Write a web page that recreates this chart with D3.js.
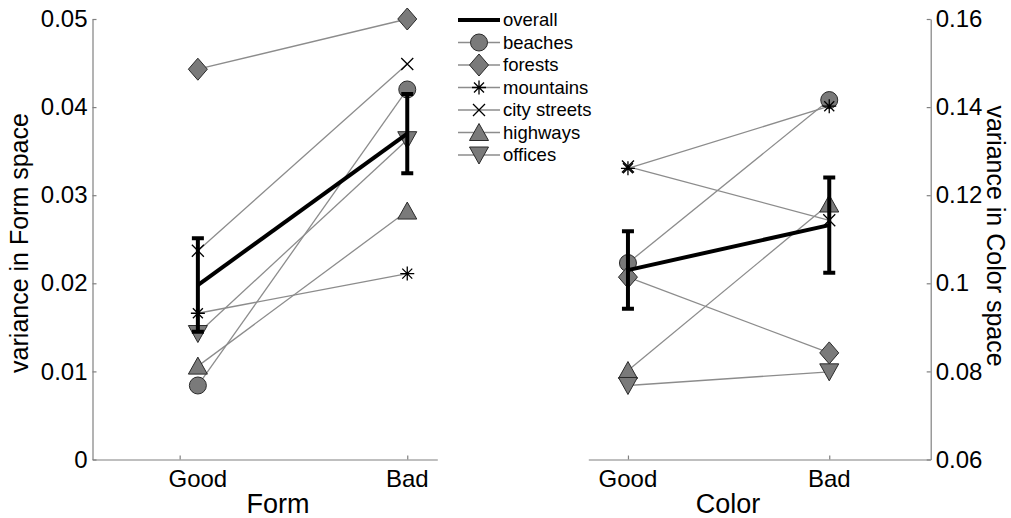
<!DOCTYPE html>
<html>
<head>
<meta charset="utf-8">
<script src="https://cdn.jsdelivr.net/npm/d3@7"></script>
<style>
  body { margin: 0; background: #fff; }
  text { font-family: 'Liberation Sans', Arial, sans-serif; fill: #000; }
</style>
</head>
<body>
<div id="chart"></div>
<script>
// categories and their marker shapes
const categories = ['beaches', 'forests', 'mountains', 'city streets', 'highways', 'offices'];
const shapes = ['circle', 'diamond', 'star', 'cross', 'triUp', 'triDown'];
const conditions = ['Good', 'Bad'];

// variance in Form space
const formGood = [0.0084, 0.0443, 0.0166, 0.0237, 0.0106, 0.0143];
const formBad = [0.0420, 0.0500, 0.0211, 0.0449, 0.0282, 0.0363];
const formOverall = [0.0198, 0.0370];
const formErr = [0.0053, 0.0045];

// variance in Color space
const colorGood = [0.1046, 0.1014, 0.1261, 0.1265, 0.0802, 0.0768];
const colorBad = [0.1416, 0.0842, 0.1402, 0.1143, 0.1180, 0.0799];
const colorOverall = [0.1030, 0.1132];
const colorErr = [0.0088, 0.0108];

// x positions of the two conditions (form panel Good points sit right of the tick)
const formX = [1.08, 2];
const colorX = [1, 2];
const xTicks = [1, 2];

const formTicks = [0, 0.01, 0.02, 0.03, 0.04, 0.05];
const formTickLabels = ['0', '0.01', '0.02', '0.03', '0.04', '0.05'];
const colorTicks = [0.06, 0.08, 0.1, 0.12, 0.14, 0.16];
const colorTickLabels = ['0.06', '0.08', '0.1', '0.12', '0.14', '0.16'];

const WIDTH = 1011;
const HEIGHT = 518;
const TOP = 19;
const BOTTOM = 459.5;
const AXIS_COLOR = '#808080';
const LINE_COLOR = '#8c8c8c';
const FILL = '#7a7a7a';

const svg = d3.select('#chart').append('svg')
  .attr('width', WIDTH)
  .attr('height', HEIGHT);

svg.append('rect').attr('width', WIDTH).attr('height', HEIGHT).attr('fill', '#fff');

const markerPath = (shape) => {
  switch (shape) {
    case 'circle': return 'M8.5,0A8.5,8.5 0 1,1 -8.5,0A8.5,8.5 0 1,1 8.5,0Z';
    case 'diamond': return 'M0,-11L9.5,0L0,11L-9.5,0Z';
    case 'triUp': return 'M0,-9L9.5,8L-9.5,8Z';
    case 'triDown': return 'M0,9L9.5,-8L-9.5,-8Z';
    case 'star': return 'M-7,0L7,0M0,-7L0,7M-5,-5L5,5M-5,5L5,-5';
    case 'cross': return 'M-6,-6L6,6M-6,6L6,-6';
  }
};

const drawMarker = (g, shape, cx, cy) => {
  const open = shape === 'star' || shape === 'cross';
  g.append('path')
    .attr('d', markerPath(shape))
    .attr('transform', `translate(${cx},${cy})`)
    .attr('fill', open ? 'none' : FILL)
    .attr('stroke', open ? '#000' : '#2a2a2a')
    .attr('stroke-width', open ? 1.3 : 1);
};

const drawPanel = (opts) => {
  const { x, y, good, bad, overall, err, xs, ticks, tickLabels, side } = opts;
  const g = svg.append('g');

  // y axis
  const yAxis = side === 'left' ? d3.axisLeft(y) : d3.axisRight(y);
  yAxis.tickValues(ticks).tickFormat((d, i) => tickLabels[i]).tickSize(-4).tickSizeOuter(0).tickPadding(5);
  const ya = g.append('g')
    .attr('transform', `translate(${side === 'left' ? x.range()[0] : x.range()[1]},0)`)
    .call(yAxis);
  ya.selectAll('path, line').attr('stroke', AXIS_COLOR).attr('stroke-width', 1.2);
  ya.selectAll('text').attr('font-size', 24).attr('font-family', "'Liberation Sans', Arial, sans-serif");

  // x axis
  const xAxis = d3.axisBottom(x).tickValues(xTicks).tickFormat('').tickSize(-4).tickSizeOuter(0);
  const xa = g.append('g').attr('transform', `translate(0,${BOTTOM})`).call(xAxis);
  xa.selectAll('path, line').attr('stroke', AXIS_COLOR).attr('stroke-width', 1.2);

  g.selectAll('.cond')
    .data(conditions)
    .join('text')
    .attr('x', (d, i) => x(xs[i]))
    .attr('y', BOTTOM + 27)
    .attr('text-anchor', 'middle')
    .attr('font-size', 24)
    .text(d => d);

  // category lines
  categories.forEach((c, i) => {
    g.append('line')
      .attr('x1', x(xs[0])).attr('y1', y(good[i]))
      .attr('x2', x(xs[1])).attr('y2', y(bad[i]))
      .attr('stroke', LINE_COLOR).attr('stroke-width', 1.3);
  });
  categories.forEach((c, i) => {
    drawMarker(g, shapes[i], x(xs[0]), y(good[i]));
    drawMarker(g, shapes[i], x(xs[1]), y(bad[i]));
  });

  // overall with error bars
  g.append('path')
    .attr('d', d3.line()(overall.map((v, i) => [x(xs[i]), y(v)])))
    .attr('stroke', '#000').attr('stroke-width', 4).attr('fill', 'none');
  overall.forEach((v, i) => {
    const cx = x(xs[i]);
    const lo = y(v - err[i]);
    const hi = y(v + err[i]);
    g.append('path')
      .attr('d', `M${cx},${lo}L${cx},${hi}M${cx - 6},${hi}L${cx + 6},${hi}M${cx - 6},${lo}L${cx + 6},${lo}`)
      .attr('stroke', '#000').attr('stroke-width', 4).attr('fill', 'none');
  });
  return g;
};

// Form panel
const xForm = d3.scaleLinear().domain([0.617, 2.132]).range([92.5, 437.3]);
const yForm = d3.scaleLinear().domain([0, 0.05]).range([BOTTOM, TOP]);
drawPanel({ x: xForm, y: yForm, good: formGood, bad: formBad, overall: formOverall, err: formErr,
  xs: formX, ticks: formTicks, tickLabels: formTickLabels, side: 'left' });

// Color panel
const xColor = d3.scaleLinear().domain([0.803, 2.504]).range([588.3, 930.7]);
const yColor = d3.scaleLinear().domain([0.06, 0.16]).range([BOTTOM, TOP]);
drawPanel({ x: xColor, y: yColor, good: colorGood, bad: colorBad, overall: colorOverall, err: colorErr,
  xs: colorX, ticks: colorTicks, tickLabels: colorTickLabels, side: 'right' });

// axis titles
svg.append('text').attr('x', 278).attr('y', 513).attr('text-anchor', 'middle').attr('font-size', 27).text('Form');
svg.append('text').attr('x', 728).attr('y', 513).attr('text-anchor', 'middle').attr('font-size', 27).text('Color');
svg.append('text').attr('transform', 'translate(28,243) rotate(-90)').attr('text-anchor', 'middle')
  .attr('font-size', 25).text('variance in Form space');
svg.append('text').attr('transform', 'translate(987,236) rotate(90)').attr('text-anchor', 'middle')
  .attr('font-size', 25).text('variance in Color space');

// legend
const legend = svg.append('g').attr('transform', 'translate(458,20)');
const legendItems = ['overall'].concat(categories);
legendItems.forEach((name, i) => {
  const row = legend.append('g').attr('transform', `translate(0,${i * 22.5})`);
  if (i === 0) {
    row.append('line').attr('x1', 0).attr('x2', 42).attr('stroke', '#000').attr('stroke-width', 4);
  } else {
    row.append('line').attr('x1', 0).attr('x2', 42).attr('stroke', LINE_COLOR).attr('stroke-width', 1.3);
    drawMarker(row, shapes[i - 1], 21, 0);
  }
  row.append('text').attr('x', 45).attr('dy', '0.35em').attr('font-size', 18.5).text(name);
});
</script>
</body>
</html>
